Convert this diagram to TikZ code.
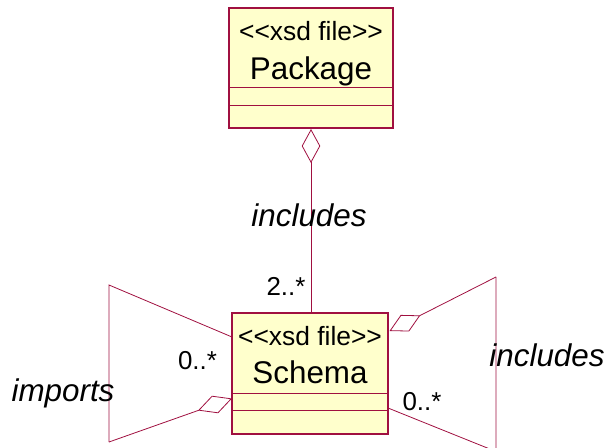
\documentclass[tikz,border=0pt]{standalone}
\usepackage{fontspec}
\setmainfont{Liberation Sans}
\usetikzlibrary{arrows.meta}

\definecolor{rosered}{RGB}{160,16,64}
\definecolor{classfill}{RGB}{255,255,204}

% plain angle brackets, kept apart so they are not joined into guillemets
\newcommand{\stereotext}[1]{<\kern0pt<#1>\kern0pt>}

\tikzset{
  classbox/.style={draw=rosered, fill=classfill, line width=1.1bp, inner sep=0pt},
  compline/.style={draw=rosered, line width=0.9bp},
  assoc/.style={draw=rosered, line width=0.8bp},
  agg/.style={assoc, -{Diamond[open, fill=white, length=#1, width=18.5bp]}},
  agg/.default=35bp,
  stereo/.style={anchor=base, inner sep=0pt, font=\fontsize{26.5}{30}\selectfont},
  clsname/.style={anchor=base, inner sep=0pt, font=\fontsize{31.5}{36}\selectfont},
  rolelabel/.style={anchor=base, inner sep=0pt, font=\fontsize{31.5}{36}\selectfont\itshape},
  mult/.style={anchor=base, inner sep=0pt, font=\fontsize{26}{30}\selectfont},
}

\begin{document}
\begin{tikzpicture}[x=1bp, y=-1bp]
\useasboundingbox (0,0) rectangle (612,448);
\clip (0,0) rectangle (612,448);

% Package class
\node[classbox, minimum width=164bp, minimum height=120bp] (pkg) at (311,68) {};
\draw[compline] (pkg.west |- 0,87) -- (pkg.east |- 0,87);
\draw[compline] (pkg.west |- 0,105) -- (pkg.east |- 0,105);
\node[stereo] (pkgst) at (311,41) {\stereotext{xsd file}};
\node[clsname] (pkgname) at (311,80) {Package};

% Schema class
\node[classbox, minimum width=156bp, minimum height=121bp] (sch) at (310,373.5) {};
\draw[compline] (sch.west |- 0,393) -- (sch.east |- 0,393);
\draw[compline] (sch.west |- 0,410) -- (sch.east |- 0,410);
\node[stereo] (schst) at (310,345.5) {\stereotext{xsd file}};
\node[clsname] (schname) at (310,383) {Schema};

% Package includes Schema
\coordinate (pkgjoin) at (311,129);
\draw[agg=34bp] (sch.north -| pkgjoin) -- (pkgjoin);
\node[rolelabel] (inclTop) at (309,227) {includes};
\node[mult] (multTop) at (286,296) {2..*};

% Schema imports Schema (left loop)
\coordinate (impA) at (232,337);
\coordinate (impB) at (109,285);
\coordinate (impC) at (109,442);
\coordinate (impD) at (232,398.5);
\draw[assoc] (impA) -- (impB) -- (impC);
\draw[agg=36bp] (impC) -- (impD);
\node[rolelabel] (imports) at (63,401) {imports};
\node[mult] (multL) at (197.5,369) {0..*};

% Schema includes Schema (right loop)
\coordinate (incA) at (388,408);
\coordinate (incB) at (496,451.5);
\coordinate (incC) at (496,277);
\coordinate (incD) at (389.5,331);
\draw[assoc] (incA) -- (incB) -- (incC);
\draw[agg=34.5bp] (incC) -- (incD);
\node[rolelabel] (inclRight) at (547,366) {includes};
\node[mult] (multR) at (422,410) {0..*};
\end{tikzpicture}
\end{document}
